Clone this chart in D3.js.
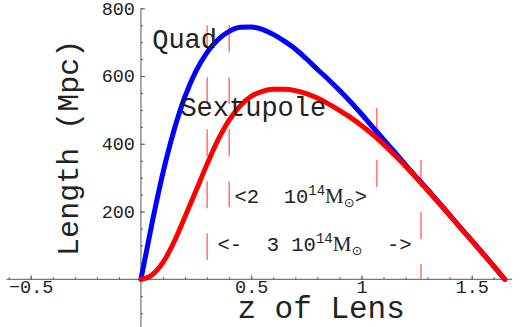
<!DOCTYPE html>
<html>
<head>
<meta charset="utf-8">
<script src="https://cdn.jsdelivr.net/npm/d3@7"></script>
<style>
  html, body { margin: 0; padding: 0; background: #fff; }
  svg { display: block; }
</style>
</head>
<body>
<div id="chart"></div>
<script>
// redshift of the lens, sampled every 0.05
const zLens = [0, 0.05, 0.1, 0.15, 0.2, 0.25, 0.3, 0.35, 0.4, 0.45, 0.5, 0.55, 0.6, 0.65, 0.7, 0.75, 0.8,
  0.85, 0.9, 0.95, 1.0, 1.05, 1.1, 1.15, 1.2, 1.25, 1.3, 1.35, 1.4, 1.45, 1.5, 1.55, 1.6, 1.65];
// length in Mpc
const quadLength = [0, 165, 315, 440, 540, 615, 670, 708, 732, 744, 745, 738, 723, 703, 680, 651, 620,
  590, 558, 524, 488, 450, 413, 376, 338, 301, 265, 228, 190, 152, 115, 77, 39, 0];
const sextLength = [0, 13, 50, 110, 185, 262, 340, 412, 470, 512, 540, 555, 561, 561, 557, 548, 535,
  518, 499, 478, 454, 428, 399, 367, 334, 299, 263, 226, 189, 151, 114, 76, 38, 0];

// mass limits: [z, top of line, bottom of line]
const massLines = [[0.3, 750, 57], [0.4, 750, 213], [1.07, 506, 272], [1.27, 352, 0]];

const xMajor = [-0.5, 0.5, 1, 1.5];
const xMinor = d3.range(-6, 17).map((d) => d / 10);
const yMajor = [200, 400, 600, 800];
const yMinor = d3.range(-100, 801, 50);

const width = 529;
const height = 327;
const mono = '"Liberation Mono", "DejaVu Sans Mono", monospace';

const svg = d3.select('#chart').append('svg').attr('width', width).attr('height', height);

const x = d3.scaleLinear().domain([-0.5, 1.5]).range([30.7, 471.7]);
const y = d3.scaleLinear().domain([0, 800]).range([279.3, 8.3]);

// axes
const axisColor = '#555';
svg.append('line')
  .attr('x1', x(-0.61)).attr('x2', x(1.683))
  .attr('y1', y(0)).attr('y2', y(0))
  .attr('stroke', axisColor);
svg.append('line')
  .attr('x1', x(0)).attr('x2', x(0))
  .attr('y1', y(800)).attr('y2', height)
  .attr('stroke', axisColor);

const xMinorAxis = svg.append('g').attr('transform', `translate(0,${y(0)})`)
  .call(d3.axisBottom(x).tickValues(xMinor).tickSize(-2).tickFormat(''));
const xAxis = svg.append('g').attr('transform', `translate(0,${y(0)})`)
  .call(d3.axisBottom(x).tickValues(xMajor).tickSize(-4).tickPadding(1).tickFormat((d) => d3.format('')(d).replace('-', '\u2212')));
const yMinorAxis = svg.append('g').attr('transform', `translate(${x(0)},0)`)
  .call(d3.axisLeft(y).tickValues(yMinor).tickSize(-2).tickFormat(''));
const yAxis = svg.append('g').attr('transform', `translate(${x(0)},0)`)
  .call(d3.axisLeft(y).tickValues(yMajor).tickSize(-4).tickPadding(6));

[xMinorAxis, xAxis, yMinorAxis, yAxis].forEach((g) => {
  g.select('.domain').remove();
  g.selectAll('line').attr('stroke', axisColor);
  g.selectAll('text').attr('font-family', mono).attr('font-size', 18.5).attr('fill', '#222');
});

// mass limit lines
svg.append('g')
  .selectAll('line')
  .data(massLines)
  .join('line')
  .attr('x1', (d) => x(d[0])).attr('x2', (d) => x(d[0]))
  .attr('y1', (d) => y(d[1])).attr('y2', (d) => y(d[2]))
  .attr('stroke', '#ff2a2a')
  .attr('stroke-width', 1)
  .attr('stroke-dasharray', '27 25');

// curves
const line = d3.line()
  .x((d) => x(d[0]))
  .y((d) => y(d[1]))
  .curve(d3.curveMonotoneX);

[[quadLength, '#0000ff'], [sextLength, '#ff0000']].forEach(([vals, color]) => {
  svg.append('path')
    .datum(zLens.map((z, i) => [z, vals[i]]))
    .attr('fill', 'none')
    .attr('stroke', color)
    .attr('stroke-width', 5)
    .attr('stroke-linecap', 'round')
    .attr('stroke-linejoin', 'round')
    .attr('d', line);
});

// labels
const label = (z, v, size, str) => svg.append('text')
  .attr('x', x(z)).attr('y', y(v))
  .attr('font-family', mono)
  .attr('font-size', size)
  .attr('fill', '#222')
  .attr('xml:space', 'preserve')
  .style('white-space', 'pre')
  .text(str);

label(0.051, 683, 27, 'Quad');
label(0.179, 481, 27, 'Sextupole');

const massLabel = (z, v, before, after) => {
  const t = label(z, v, 20.5, before);
  t.append('tspan').attr('font-size', 14).attr('dy', -8).text('14');
  t.append('tspan').attr('font-family', '"Liberation Serif", serif').attr('font-size', 21).attr('dy', 8).text('M');
  t.append('tspan').attr('font-family', '"DejaVu Sans", sans-serif').attr('font-size', 13).attr('dy', 4).text('\u2299');
  t.append('tspan').attr('dy', -4).text(after);
};
massLabel(0.424, 225, '<2  10', '>');
massLabel(0.347, 84, '<-  3 10', '  ->');

svg.append('text')
  .attr('transform', `translate(78,${y(388)}) rotate(-90)`)
  .attr('text-anchor', 'middle')
  .attr('font-family', mono)
  .attr('font-size', 30)
  .attr('fill', '#222')
  .text('Length (Mpc)');

svg.append('text')
  .attr('x', x(0.817))
  .attr('y', 318)
  .attr('text-anchor', 'middle')
  .attr('font-family', mono)
  .attr('font-size', 31)
  .attr('fill', '#222')
  .text('z of Lens');
</script>
</body>
</html>
